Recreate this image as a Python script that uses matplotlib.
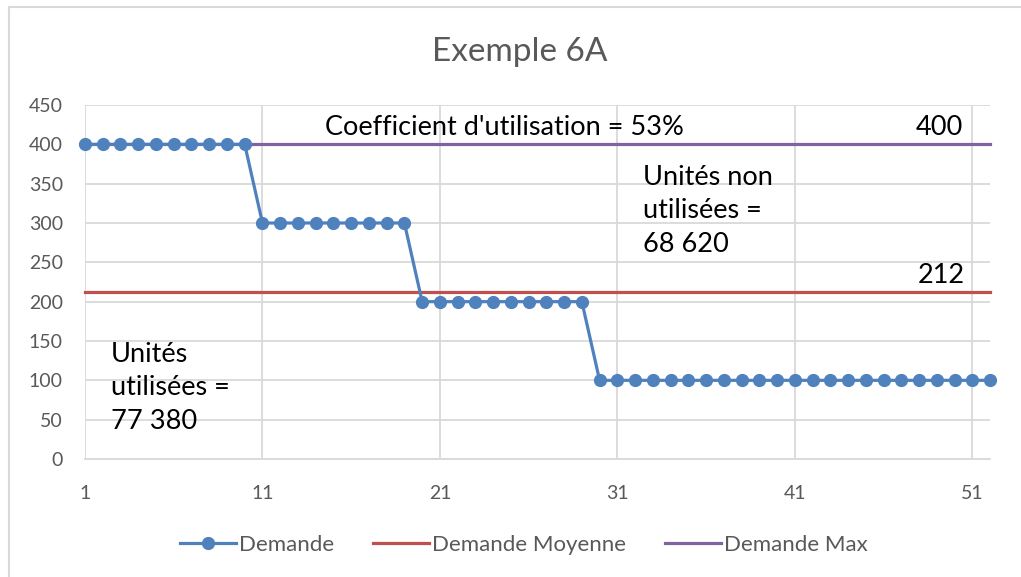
import matplotlib.pyplot as plt
from matplotlib.lines import Line2D

plt.rcParams['font.family'] = ['Lato', 'DejaVu Sans']

# data
periods = list(range(1, 53))
demande = [400] * 10 + [300] * 9 + [200] * 10 + [100] * 23
demande_moyenne = 212
demande_max = 400
x_ticks = [1, 11, 21, 31, 41, 51]
y_ticks = [0, 50, 100, 150, 200, 250, 300, 350, 400, 450]

blue = "#4F81BD"
red = "#C0504D"
purple = "#8064A2"
grey_txt = "#595959"
grid_c = "#D9D9D9"

fig = plt.figure(figsize=(10.21, 5.77), dpi=100)
ax = fig.add_axes([85 / 1021, 1 - 459 / 577, (990 - 85) / 1021, (459 - 105) / 577])

ax.plot(periods, demande, color=blue, lw=2.3, marker="o", markersize=8.5, zorder=4, clip_on=False)
ax.plot([periods[0], periods[-1]], [demande_moyenne] * 2, color=red, lw=2.3, zorder=3, clip_on=False)
ax.plot([periods[0], periods[-1]], [demande_max] * 2, color=purple, lw=2.3, zorder=3, clip_on=False)

ax.set_xlim(1, 52)
ax.set_ylim(0, 450)
ax.set_xticks(x_ticks)
ax.set_yticks(y_ticks)
ax.tick_params(length=0, labelsize=14, labelcolor=grey_txt)
ax.tick_params(axis="x", pad=19)
ax.tick_params(axis="y", pad=16)
ax.grid(True, color=grid_c, lw=1.3)
ax.set_axisbelow(True)
for s in ["top", "right", "left"]:
    ax.spines[s].set_visible(False)
ax.spines["bottom"].set_color(grid_c)
ax.spines["bottom"].set_linewidth(1.3)

# annotations
ax.text(14.5, 422, "Coefficient d'utilisation = 53%", fontsize=19.5, va="center", ha="left")
ax.text(50.5, 422, "400", fontsize=19.5, va="center", ha="right")
ax.text(32.45, 374, "Unités non\nutilisées =\n68 620", fontsize=19.5, va="top", ha="left", linespacing=1.42)
ax.text(50.6, 233, "212", fontsize=19.5, va="center", ha="right")
ax.text(2.45, 149, "Unités\nutilisées =\n77 380", fontsize=19.5, va="top", ha="left", linespacing=1.42)

fig.text(520 / 1021, 1 - 52 / 577, "Exemple 6A", fontsize=24, color=grey_txt, ha="center", va="center")

handles = [
    Line2D([], [], color=blue, lw=2.3, marker="o", markersize=8.5),
    Line2D([], [], color=red, lw=2.3),
    Line2D([], [], color=purple, lw=2.3),
]
fig.legend(handles, ["Demande", "Demande Moyenne", "Demande Max"], loc="center",
           bbox_to_anchor=(524 / 1021, 1 - 545 / 577), ncol=3, frameon=False,
           fontsize=16, labelcolor=grey_txt, handlelength=2.5, handletextpad=0.15,
           columnspacing=1.75)

# chart border (left and top edges)
fig.add_artist(Line2D([8.5 / 1021, 8.5 / 1021], [0, 1 - 7 / 577], color=grid_c, lw=1.5))
fig.add_artist(Line2D([8.5 / 1021, 1], [1 - 7 / 577, 1 - 7 / 577], color=grid_c, lw=1.5))

fig.savefig("out.png", dpi=100)
